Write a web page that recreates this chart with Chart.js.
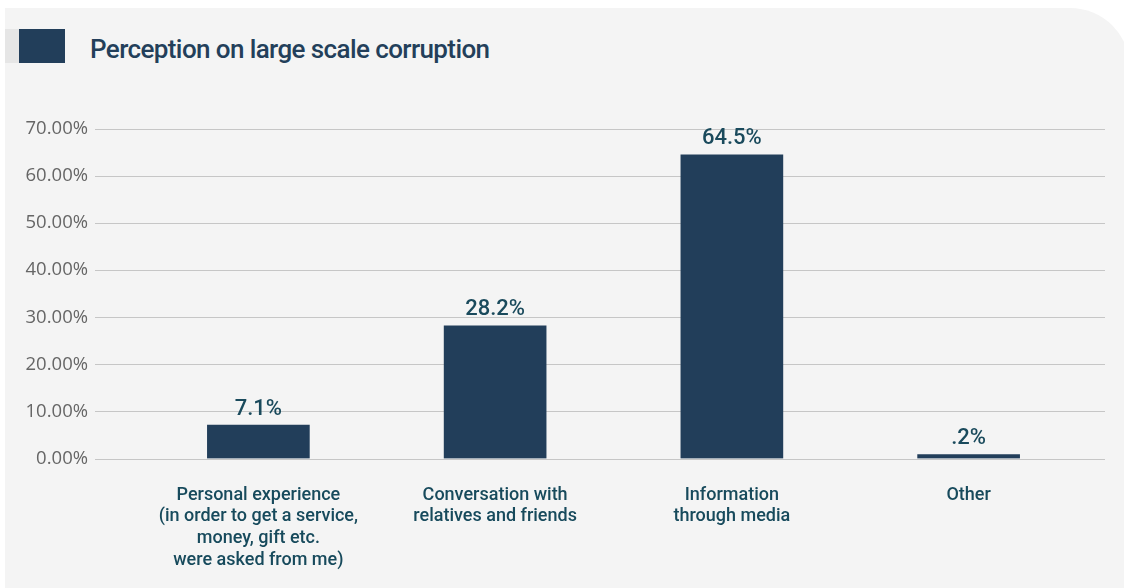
<!DOCTYPE html>
<html>
<head>
<meta charset="utf-8">
<script src="https://cdn.jsdelivr.net/npm/chart.js@4.4.1/dist/chart.umd.min.js"></script>
<style>
html,body{margin:0;padding:0;background:#fff;}
#wrap{position:relative;width:1124px;height:588px;overflow:hidden;}
#panel{position:absolute;left:5px;top:8px;width:1125px;height:600px;background:#f4f4f4;border-top-right-radius:60px;}
#strip{position:absolute;left:5px;top:29px;width:14px;height:34px;background:#e6e6e6;}
#square{position:absolute;left:19px;top:29px;width:46px;height:34px;background:#223e5a;}
#title{position:absolute;left:90px;top:32px;font-family:Roboto;font-weight:500;font-size:26px;color:#233f5a;line-height:34px;white-space:nowrap;letter-spacing:-0.6px;}
canvas{position:absolute;left:0;top:0;}
</style>
</head>
<body>
<div id="wrap">
  <div id="panel"></div>
  <div id="strip"></div>
  <div id="square"></div>
  <div id="title">Perception on large scale corruption</div>
  <canvas id="c" width="1124" height="588"></canvas>
</div>
<script>
const categories = [
  ['Personal experience', '(in order to get a service,', 'money, gift etc.', 'were asked from me)'],
  ['Conversation with', 'relatives and friends'],
  ['Information', 'through media'],
  ['Other']
];
const shares = [7.1, 28.2, 64.5, 0.2];
const shareLabels = ['7.1%', '28.2%', '64.5%', '.2%'];
const yTicks = [0, 10, 20, 30, 40, 50, 60, 70];

// grid lines run wider than the plot area in the original
const wideGrid = {
  id: 'wideGrid',
  beforeDatasetsDraw(chart) {
    const y = chart.scales.y, ctx = chart.ctx;
    ctx.save();
    ctx.strokeStyle = '#c6c6c6';
    ctx.lineWidth = 1;
    y.ticks.forEach(t => {
      const py = Math.round(y.getPixelForValue(t.value)) + 0.5;
      ctx.beginPath();
      ctx.moveTo(95, py);
      ctx.lineTo(1105, py);
      ctx.stroke();
    });
    ctx.restore();
  }
};

const barLabels = {
  id: 'barLabels',
  afterDatasetsDraw(chart) {
    const ctx = chart.ctx;
    const meta = chart.getDatasetMeta(0);
    ctx.save();
    ctx.font = '500 22px Roboto';
    ctx.fillStyle = '#1a4a5c';
    ctx.textAlign = 'center';
    ctx.textBaseline = 'bottom';
    meta.data.forEach((bar, i) => ctx.fillText(shareLabels[i], bar.x, bar.y - 5));
    ctx.restore();
  }
};

new Chart(document.getElementById('c'), {
  type: 'bar',
  data: {
    labels: categories,
    datasets: [{
      data: shares,
      backgroundColor: '#223e5a',
      barThickness: 102,
      minBarLength: 4
    }]
  },
  options: {
    responsive: false,
    animation: false,
    layout: { padding: { top: 129, right: 37, bottom: 0, left: 0 } },
    plugins: { legend: { display: false }, tooltip: { enabled: false } },
    scales: {
      x: {
        afterFit: s => { s.height = 129.5; },
        grid: { display: false, drawTicks: false },
        border: { display: false },
        ticks: {
          autoSkip: false, maxRotation: 0, padding: 26,
          color: '#174a5c',
          font: { family: 'Roboto', size: 18, weight: '500', lineHeight: 1.2 }
        }
      },
      y: {
        min: 0, max: 70,
        afterBuildTicks: s => { s.ticks = yTicks.map(v => ({ value: v })); },
        afterFit: s => { s.width = 140; },
        grid: { display: false, drawTicks: false },
        border: { display: false },
        ticks: {
          padding: 52,
          color: '#666666',
          font: { family: 'Open Sans', size: 18.5 },
          callback: v => v.toFixed(2) + '%'
        }
      }
    }
  },
  plugins: [wideGrid, barLabels]
});
</script>
</body>
</html>
